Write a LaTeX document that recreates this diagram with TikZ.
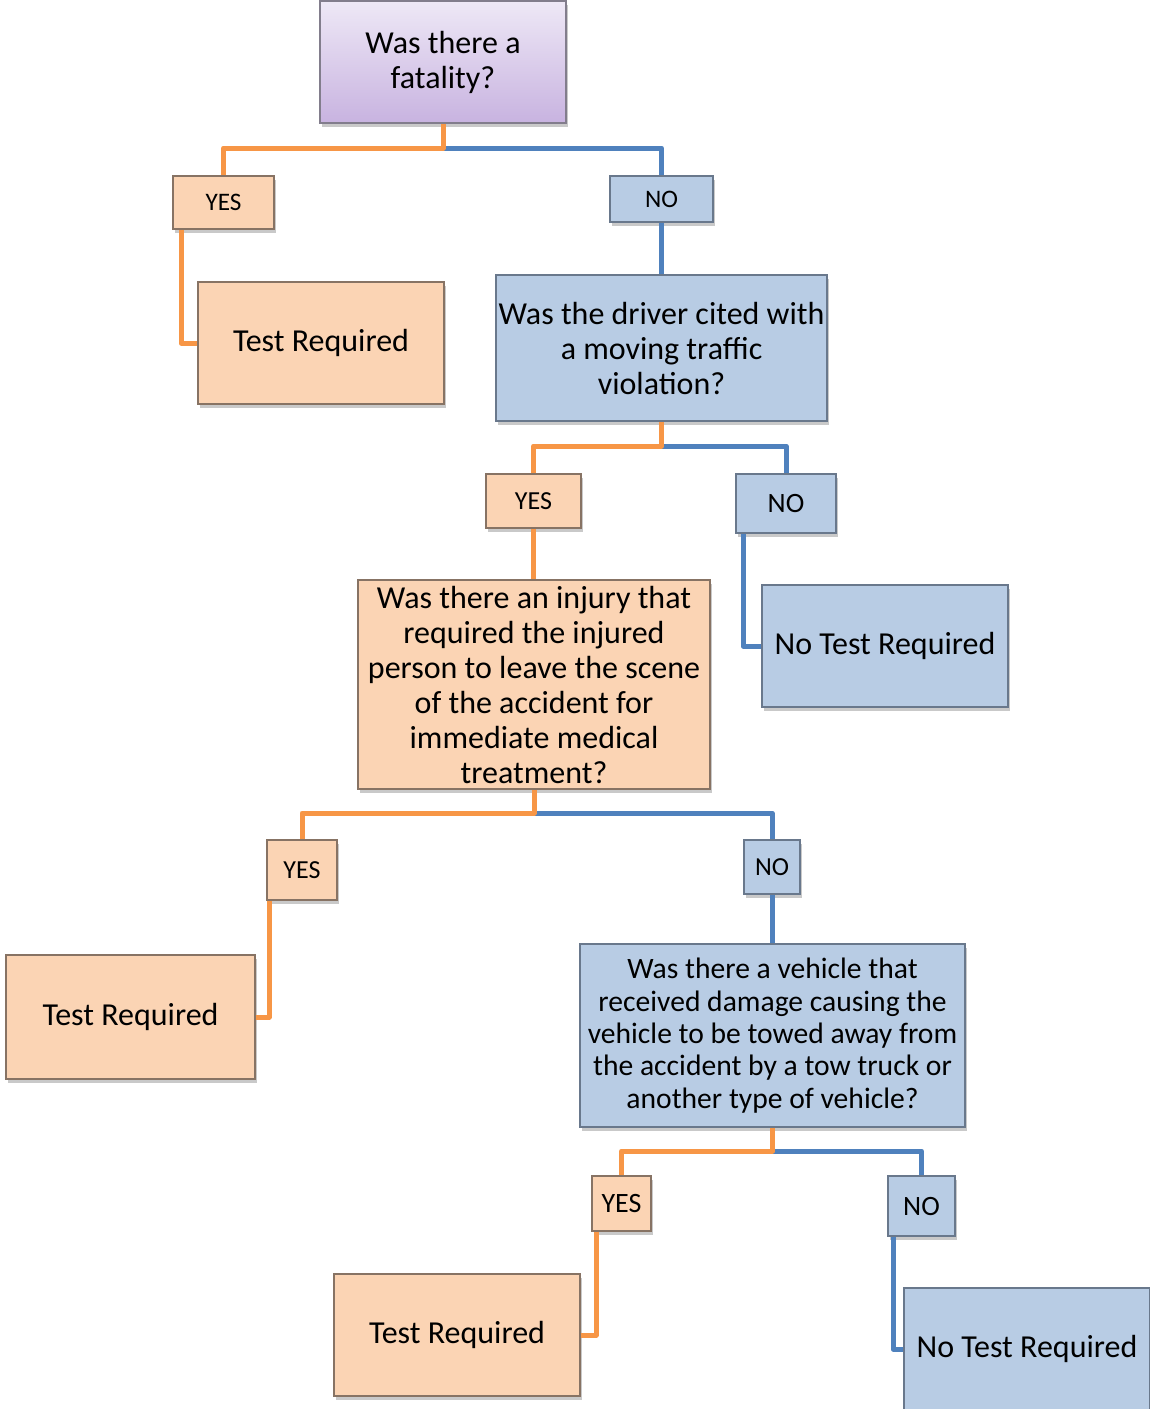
\documentclass[tikz,border=0pt]{standalone}
\usepackage{fontspec}
\setmainfont{Carlito}
\usetikzlibrary{shadows}

\definecolor{peach}{HTML}{FBD4B4}
\definecolor{peachedge}{RGB}{135,115,100}
\definecolor{skyfill}{HTML}{B8CCE4}
\definecolor{skyedge}{RGB}{105,120,140}
\definecolor{lilactop}{HTML}{EEE8F6}
\definecolor{lilacbot}{HTML}{C8B3E0}
\definecolor{lilacedge}{RGB}{130,125,140}
\definecolor{yesline}{HTML}{F79646}
\definecolor{noline}{HTML}{4F81BD}

\newcommand{\bigtxt}{\fontsize{16}{17.5}\selectfont}

\tikzset{
  box/.style={rectangle, inner sep=0pt, align=center, line width=1pt,
    drop shadow={shadow xshift=1pt, shadow yshift=-2pt, opacity=0.3, fill=black!70}},
  yesbox/.style={box, fill=peach, draw=peachedge},
  nobox/.style={box, fill=skyfill, draw=skyedge},
  yesline/.style={draw=yesline, line width=2.5pt, line join=round},
  noline/.style={draw=noline, line width=2.5pt, line join=round}
}

\begin{document}
\begin{tikzpicture}[x=0.5pt, y=-0.5pt]
      \useasboundingbox (0,0) rectangle (1150,1409);

      % question boxes
      \node[box, draw=lilacedge, top color=lilactop, bottom color=lilacbot,
        minimum width=123pt, minimum height=61pt, font=\bigtxt] (fat) at (443,62)
        {Was there a\\fatality?};
      \node[nobox, minimum width=165.5pt, minimum height=73pt, font=\bigtxt] (drv) at (661.5,348)
        {Was the driver cited with\\a moving traffic\\violation?};
      \node[yesbox, minimum width=176pt, minimum height=104.5pt, font=\bigtxt] (inj) at (534,684.5)
        {Was there an injury that\\required the injured\\person to leave the scene\\of the accident for\\immediate medical\\treatment?};
      \node[nobox, minimum width=192.5pt, minimum height=91.5pt,
        font=\fontsize{14.8}{16.2}\selectfont] (veh) at (772.5,1035.5)
        {Was there a vehicle that\\received damage causing the\\vehicle to be towed away from\\the accident by a tow truck or\\another type of vehicle?};

      % answer labels
      \node[yesbox, minimum width=50.5pt, minimum height=26.5pt, font=\fontsize{12.6}{14}\selectfont] (yesa) at (223.5,202.5) {YES};
      \node[nobox, minimum width=51.5pt, minimum height=23pt, font=\fontsize{12.6}{14}\selectfont] (noa) at (661.5,199) {NO};
      \node[yesbox, minimum width=47.5pt, minimum height=27pt, font=\fontsize{13}{15}\selectfont] (yesb) at (533.5,501) {YES};
      \node[nobox, minimum width=50pt, minimum height=29.5pt, font=\fontsize{14}{16}\selectfont] (nob) at (786,503.5) {NO};
      \node[yesbox, minimum width=35pt, minimum height=30pt, font=\fontsize{13}{15}\selectfont] (yesc) at (302,870) {YES};
      \node[nobox, minimum width=28pt, minimum height=27pt, font=\fontsize{13}{15}\selectfont] (noc) at (772,867) {NO};
      \node[yesbox, minimum width=29.5pt, minimum height=27.5pt, font=\fontsize{14}{16}\selectfont] (yesd) at (621.5,1203.5) {YES};
      \node[nobox, minimum width=33.5pt, minimum height=30pt, font=\fontsize{14}{16}\selectfont] (nod) at (921.5,1206) {NO};

      % outcomes
      \node[yesbox, minimum width=123pt, minimum height=61pt, font=\bigtxt] (testa) at (321,343) {Test Required};
      \node[nobox, minimum width=123pt, minimum height=61pt, font=\bigtxt] (notesta) at (885,646) {No Test Required};
      \node[yesbox, minimum width=124.5pt, minimum height=62pt, font=\bigtxt] (testb) at (130.5,1017) {Test Required};
      \node[yesbox, minimum width=123pt, minimum height=61pt, font=\bigtxt] (testc) at (457,1335) {Test Required};
      \node[nobox, minimum width=123pt, minimum height=61pt, font=\bigtxt] (notestb) at (1027,1349) {No Test Required};

      % splits
      \coordinate (ja) at (443,148);
      \coordinate (jb) at (661.5,446);
      \coordinate (jc) at (534,813);
      \coordinate (jd) at (772.5,1151);

      \draw[noline] (ja) -| (noa.north);
      \draw[yesline] (fat.south) -- (ja) -| (yesa.north);
      \draw[yesline] (yesa.south west) ++(9,0) |- (testa.west);
      \draw[noline] (noa.south) -- (noa.south |- drv.north);

      \draw[noline] (jb) -| (nob.north);
      \draw[yesline] (drv.south) -- (jb) -| (yesb.north);
      \draw[yesline] (yesb.south) -- (yesb.south |- inj.north);
      \draw[noline] (nob.south west) ++(8,0) |- (notesta.west);

      \draw[noline] (jc) -| (noc.north);
      \draw[yesline] (inj.south) -- (jc) -| (yesc.north);
      \draw[yesline] (yesc.south west) ++(3,0) |- (testb.east);
      \draw[noline] (noc.south) -- (noc.south |- veh.north);

      \draw[noline] (jd) -| (nod.north);
      \draw[yesline] (veh.south) -- (jd) -| (yesd.north);
      \draw[yesline] (yesd.south west) ++(5,0) |- (testc.east);
      \draw[noline] (nod.south west) ++(6,0) |- (notestb.west);

    \end{tikzpicture}
\end{document}
